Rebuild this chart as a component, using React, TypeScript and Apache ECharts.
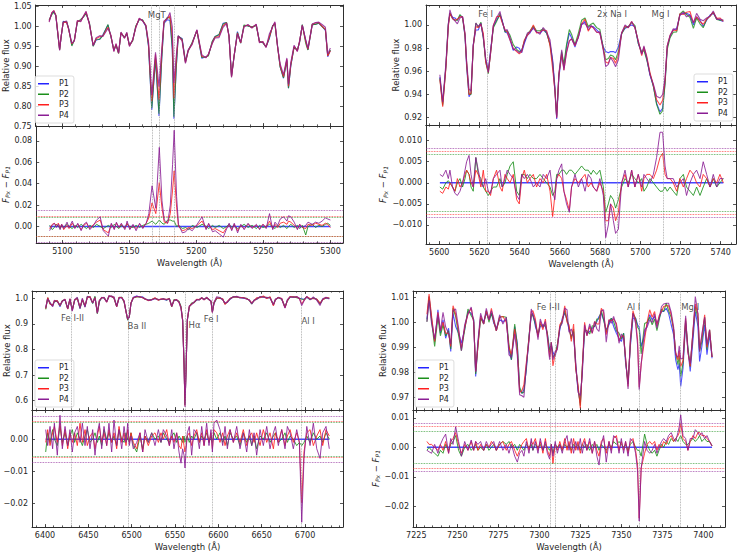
import { useEffect, useRef } from 'react';
import * as echarts from 'echarts';

// ---------- Mg b triplet window ----------
const wlMg = [
  5090.5, 5092.5, 5094, 5095.5, 5097, 5098.3, 5099.5, 5101, 5103.5, 5105,
  5107.4, 5109.3, 5111.5, 5114, 5116, 5118, 5120.5, 5123.3, 5125.5, 5128.2,
  5130.5, 5134.3, 5136.5, 5138.7, 5140.3, 5142.2, 5144, 5146.6, 5148.3, 5150.3,
  5152.7, 5155, 5157.6, 5160, 5162.5, 5164.5, 5166.9, 5169.7, 5172.3, 5174.3,
  5176, 5178.5, 5180.5, 5182.2, 5183.4, 5185.2, 5186.6, 5189.5, 5192, 5194,
  5196.9, 5200.5, 5204.2, 5207.2, 5209.1, 5212, 5214, 5217, 5220, 5222.6,
  5224.4, 5226.3, 5228.2, 5230.7, 5233.1, 5235.6, 5238.5, 5241.5, 5244.7, 5247.1,
  5249.6, 5252, 5254.5, 5256.9, 5258.6, 5260.6, 5262.5, 5265, 5267.5, 5268.7,
  5270.4, 5272.9, 5275.3, 5277, 5279, 5281.5, 5283.2, 5286.4, 5288.8, 5291.3,
  5293.7, 5296.2, 5297.9, 5299.9,
];
const fluxMg = [
  1.015, 1.033, 1.037, 1.027, 0.98, 0.943, 0.975, 1.013, 1.01, 0.995,
  0.953, 0.966, 1.012, 1.016, 1.024, 1.034, 1.008, 0.951, 0.966, 0.968,
  0.979, 1.004, 0.975, 0.94, 0.953, 0.934, 0.983, 0.973, 0.981, 0.953,
  0.965, 1.0, 1.018, 1.016, 1.0, 0.949, 0.79, 0.918, 0.775, 0.916,
  1.008, 1.017, 1.015, 0.941, 0.768, 0.9, 0.975, 0.97, 0.912, 0.941,
  0.958, 0.99, 0.92, 0.924, 0.928, 0.962, 0.975, 0.979, 1.008, 1.01,
  0.975, 0.876, 0.924, 0.987, 0.958, 1.002, 1.002, 0.998, 1.004, 0.962,
  0.96, 0.949, 0.97, 1.002, 1.008, 0.949, 0.899, 0.87, 0.916, 0.845,
  0.9, 0.949, 0.94, 0.962, 1.004, 0.966, 0.941, 1.004, 1.006, 1.008,
  1.0, 0.99, 0.924, 0.94,
];
// differences to P1, in units of 1e-3
const d2Mg = [
  1, -3, -1, 2, 0, -2, 1, -1, 2, 0,
  -2, 1, -1, 2, 0, -2, 1, -1, 2, 0,
  -2, 1, -1, 2, 0, -2, 1, -1, 2, 0,
  -1, 1, -1, 1, 2, 3, 5, 2, 6, 3,
  2, 6, 6, 5, 5, 0, 1, -2, -1, -3,
  1, -1, 2, 0, -2, 1, -1, 1, -2, 0,
  2, -1, 1, -2, 0, 2, -1, 1, -2, 1,
  -1, 0, 2, 0, -2, 1, -1, 1, -2, 0,
  2, -1, 1, -2, 1, -8, 0, 2, -1, 1,
  0, 2, 3, 1,
];
const d3Mg = [
  -2, 2, 3, 1, 3, -1, 2, -3, 1, -2,
  3, -1, 2, -3, 1, 3, -2, 2, 4, 6,
  -3, -6, 2, -2, 3, -1, 2, -2, 3, -2,
  1, -2, 2, -1, 3, 8, 22, 12, 41, 17,
  4, 3, 12, 34, 52, 18, 0, -4, -3, -1,
  -2, 1, 5, -2, 2, -3, -2, -4, -6, -1,
  1, -3, 2, -4, 1, -2, 2, -1, 1, -2,
  2, -1, 5, -2, 2, -1, 3, 4, 2, 5,
  4, 1, -2, 2, -1, -2, 2, 1, 3, 2,
  1, 3, 2, -1,
];
const d4Mg = [
  -4, 1, 3, -1, 2, -3, 2, -2, 4, -1,
  5, -2, 3, -4, 2, 4, -3, 1, 6, 9,
  -4, -9, 3, -3, 4, -1, 3, -3, 5, -3,
  2, -4, 3, -2, 3, 12, 38, 17, 74, 24,
  6, 3, 20, 58, 90, 28, 2, -6, -5, -2,
  -4, 2, 9, -3, 3, -5, -4, -7, -10, -2,
  3, -4, 3, -6, 2, -3, 3, -2, 2, -3,
  2, -2, 12, -3, 4, 1, 7, 9, 5, 10,
  9, 4, -3, 2, -1, 1, 4, 2, 4, 3,
  5, 8, 7, 6,
];
const sigmaMg = [9.0, 9.4, 15.0];
const linesMg = [5166.8, 5172.2, 5183.3];
const notesMg = [{ text: 'MgT', w: 5171, f: 1.027 }];
const xTicksMg = [5100, 5150, 5200, 5250, 5300];
const fTicksMg = [0.75, 0.8, 0.85, 0.9, 0.95, 1.0, 1.05];
const dTicksMg = [0, 0.02, 0.04, 0.06, 0.08];

// ---------- Na D window ----------
const wlNa = [
  5600.3, 5601.7, 5603.3, 5604.5, 5605.3, 5606.6, 5607.8, 5609, 5610.3, 5611.6,
  5612.8, 5613.6, 5614.8, 5615.8, 5616.9, 5618.2, 5619.4, 5620.7, 5621.9, 5623.1,
  5624.4, 5625.5, 5626.9, 5628.5, 5630.2, 5631.3, 5632.7, 5633.8, 5635.2, 5636.8,
  5638.5, 5639.8, 5641, 5642.3, 5643.8, 5645.1, 5646.8, 5648.4, 5650.1, 5651.7,
  5653.4, 5655.1, 5656.4, 5657.5, 5658.4, 5659.5, 5660.9, 5662, 5663.3, 5664.7,
  5665.8, 5667.5, 5669.2, 5670.8, 5672.5, 5674.1, 5675.5, 5676.6, 5678.3, 5679.9,
  5681.6, 5682.8, 5684.1, 5685.2, 5686.6, 5687.7, 5689.1, 5690.7, 5692.4, 5694,
  5695.7, 5697.3, 5699, 5700.7, 5701.8, 5703.2, 5704.8, 5706.5, 5708.1, 5709.8,
  5711.1, 5712.3, 5713.4, 5714.8, 5716.4, 5718.1, 5719.7, 5721.4, 5723, 5724.7,
  5726.4, 5728, 5729.7, 5731.3, 5733, 5734.7, 5736.3, 5738, 5739.6, 5741.3,
];
const fluxNa = [
  0.955, 0.932, 0.964, 1.0, 1.01, 1.0066, 1.006, 1.004, 1.008, 1.007,
  0.99, 0.964, 0.938, 0.941, 0.983, 0.9957, 0.9957, 1.0014, 0.99, 0.97,
  0.961, 0.978, 0.9986, 1.004, 1.0086, 1.004, 0.994, 0.993, 0.987, 0.978,
  0.981, 0.98, 0.976, 0.984, 0.991, 0.993, 0.998, 0.994, 0.993, 0.9957,
  0.993, 0.984, 0.97, 0.947, 0.919, 0.955, 0.974, 0.963, 0.981, 0.993,
  0.989, 0.981, 0.99, 1.0, 1.003, 0.9957, 0.9986, 0.9986, 0.9957, 0.993,
  0.981, 0.977, 0.976, 0.977, 0.977, 0.976, 0.981, 0.993, 0.997, 0.9986,
  1.0, 0.9986, 0.984, 0.9756, 0.98, 0.971, 0.957, 0.947, 0.9325, 0.925,
  0.928, 0.95, 0.981, 0.99, 0.9957, 0.997, 1.0086, 1.01, 1.01, 1.0086,
  1.0, 1.007, 1.004, 0.9986, 1.004, 1.0086, 1.01, 1.0057, 1.004, 1.003,
];
const d2Na = [
  -1, -1.5, 0, 0.5, 0, -1, -2, 0, 1, -1,
  1, 3, 2, -1, -2, 6, 2, 1, -1, -2,
  -3, -2, -1, -1, 1, -1, 0, 2, 4, 5,
  -2, -3, 2, 2, 1, 2, 1, 1, 2, 1,
  0, -1, -3, -2, 2, 2, 3, 3, 2, 3,
  3, 2, 3, 4, 3, 3, 2, 3, 2, 3,
  -1, -7, -5, -3, -4, -6, -4, -1, 1, 0,
  2, 1, 0, 1, -2, -1, 1, 0, -1, -2,
  -2, -1, -2, -1, -2, -3, 1, 2, -1, -2,
  -3, -1, -3, -1, 1, -1, 1, -1, 0, 1,
];
const d3Na = [
  -2, -2.5, -1, -1.5, 0, -1, -2, 1, -1, 0,
  2, 3, 2, 0, -1, 3, 2, -1, 3, -2,
  -2, -3, 1, 3, -1, -2, 2, 1, 0, 2,
  -4, -5, 1, 3, 0, 1, 2, -1, 1, 0,
  2, -2, -8, -3, 1, 2, 1, -2, -4, -6.5,
  -1, 1, 0, 1, 2, -1, 0, -1, -2, 0,
  -2, -9, -9, -5, -6, -9, -7, 0, 2, -1,
  3, -1, 2, -2, 1, 2, 2, 1, 3, 6,
  7, 2, 1, 1, 0, -2, 1, -1, 1, 3,
  2, 0, -1, 2, 1, -1, 1, 0, 2, 0,
];
const d4Na = [
  2, 1.5, 3, 1, 3, -1, -2.5, -3, -2, 0,
  3, 5, 6.5, 2, -1, 6, 3, 0, -1, 1,
  -2, -2.5, 1, 2, 3, -1, 1, 3, 2, 1,
  -3, -4, 2, 1, 2, 1, -1, 0, -1, 2,
  1, 3, -2, -4, 1, 3, 4.5, -2, -5, -7,
  -1, 2, -1, 1, -2, 2, 1, -1, -2, 1,
  -3, -13, -10, -5, -9, -12, -11, 0, 3, -1,
  3, -1, 2, -1, 2, 1, 0, 2, 6, 12,
  12, 4, 1, 1, 1, -1, 0, 1, -3, 0,
  2, 3, 1, 5, 2, -1, 2, -1, 1, 1,
];
const sigmaNa = [6.7, 7.5, 8.1];
const linesNa = [5623.9, 5682.6, 5688.3, 5711.2];
const notesNa = [
  { text: 'Fe I', w: 5623.3, f: 1.0094 },
  { text: '2x Na I', w: 5686.2, f: 1.0094 },
  { text: 'Mg I', w: 5710.3, f: 1.0094 },
];
const xTicksNa = [5600, 5620, 5640, 5660, 5680, 5700, 5720, 5740];
const fTicksNa = [0.92, 0.94, 0.96, 0.98, 1.0];
const dTicksNa = [-0.01, -0.005, 0, 0.005, 0.01];

// ---------- H-alpha window ----------
const wlHa = [
  6400.8, 6403.1, 6405.8, 6408.8, 6410.8, 6414.2, 6417.3, 6420, 6423.1, 6426.2,
  6428.8, 6431.5, 6434.2, 6437.3, 6440.4, 6443.1, 6446.2, 6448.8, 6451.9, 6455,
  6457.7, 6460.4, 6462.7, 6465.4, 6468.1, 6471.2, 6473.8, 6476.9, 6479.6, 6482.7,
  6485.4, 6488.5, 6491.2, 6493.5, 6495.4, 6497.3, 6499.2, 6501.9, 6505.8, 6509.6,
  6512.7, 6515.4, 6519.2, 6523.1, 6526.9, 6530.8, 6533.8, 6536.5, 6540.4, 6543.5,
  6546.2, 6548.8, 6551.9, 6554.6, 6556.9, 6558.8, 6560.4, 6561.5, 6562.7, 6564.2,
  6566.5, 6569.2, 6571.9, 6575, 6578.1, 6580.8, 6583.5, 6586.5, 6589.2, 6591.5,
  6593.1, 6595, 6598.1, 6601.9, 6605, 6607.7, 6610.4, 6613.5, 6617.3, 6621.2,
  6625, 6628.8, 6632.7, 6635.8, 6638.5, 6641.2, 6644.2, 6648.1, 6651.9, 6655.8,
  6659.6, 6663.5, 6665.8, 6669.2, 6673.1, 6676.9, 6679.6, 6682.7, 6686.5, 6690.4,
  6693.5, 6696.2, 6698.8, 6702, 6705.8, 6709.6, 6713.5, 6717.3, 6720.4, 6724.2,
  6728,
];
const fluxHa = [
  0.961, 1.0, 0.98, 0.97, 0.987, 0.991, 0.967, 0.991, 0.993, 0.961,
  0.996, 0.954, 0.993, 1.0, 0.961, 0.996, 0.967, 1.004, 1.006, 0.98,
  1.006, 0.941, 0.987, 1.004, 1.0, 0.987, 1.006, 1.009, 1.0, 0.97,
  1.0, 1.004, 0.987, 0.948, 0.915, 0.929, 0.98, 1.004, 1.009, 1.004,
  1.006, 0.996, 0.993, 0.993, 1.0, 0.993, 0.996, 0.996, 0.993, 1.0,
  0.967, 0.993, 0.993, 0.987, 0.967, 0.915, 0.746, 0.584, 0.72, 0.915,
  0.967, 0.98, 0.983, 0.993, 0.996, 1.0, 0.996, 1.0, 0.996, 0.987,
  0.948, 0.98, 1.0, 1.0, 0.996, 0.978, 0.987, 0.996, 1.006, 1.004,
  1.004, 1.0, 1.0, 0.991, 0.98, 0.991, 1.0, 1.004, 1.006, 1.0,
  1.004, 0.974, 0.993, 1.004, 0.996, 0.965, 0.991, 1.004, 1.006, 1.004,
  1.0, 0.998, 0.996, 1.004, 0.996, 1.0, 0.996, 0.978, 0.996, 1.0,
  1.0,
];
const d2Ha = [
  -4, 2, -1, 3, 0, -2, 4, -1, 2, -2,
  1, 3, -1, 2, 0, -2, 1, 3, -1, 0,
  2, -1, 1, -2, 3, 0, 2, -1, 1, -2,
  3, 0, -1, 2, 0, -1, 2, -2, -4, 1,
  -3, 1, -1, 2, 0, 1, -1, 2, 0, -1,
  1, 2, -1, 1, 0, -1, 1, -1, 0, 1,
  -1, 1, 0, 2, -1, 1, 0, 2, -1, 1,
  -1, 2, 0, 2, -1, 1, -2, 2, 0, 1,
  -2, 2, -1, 1, -2, 1, -3, 1, 0, 2,
  -1, 1, 2, -1, 0, 2, -1, 1, 0, -2,
  -1, -2, -1, 1, -1, 2, 0, 1, -1, 2,
  0,
];
const d3Ha = [
  -1, 3, -2, 2, 4, -1, 5, -2, 3, -3,
  2, -1, 2, -2, 5, -1, 3, -2, 1, 2,
  -3, 1, 4, -1, 2, -2, 3, -1, 2, -3,
  4, -1, 2, -2, 3, -1, 2, -1, -3, 2,
  -4, 1, -2, 1, 2, -1, 2, 0, 3, -2,
  1, -1, 2, -2, -3, 1, -2, -4, -2, 1,
  2, -2, 1, 3, -1, 2, -2, 3, -1, 2,
  -3, 3, 2, -1, 2, -2, 1, 3, -1, 2,
  -1, 3, -2, 1, 2, -1, 2, -2, 3, -1,
  2, -3, 2, -1, 3, -2, 1, 3, -1, 2,
  -1, -20, -4, 2, 3, -2, 1, 3, -2, 3,
  1,
];
const d4Ha = [
  3, -2, 4, -3, 5, -5, 7.5, -3, 4, -2,
  3, -4, 2, 4, -1, 5, -2, 4, -3, 3,
  -5, 2, 5, -3, 4, -2, 5, -4, 6, -2,
  3, -3, 4, -1, 5, -2, 1, -3, -1, 2,
  -4, 3, -1, 2, -2, 3, -1, 3, 1, -2,
  3, -3, 2, -4, -7.5, -3, -5, -9, -4, 2,
  4, -5, 3, 2, -3, 4, -2, 5, -2, 3,
  -4, 5, 6, 3, -2, 4, -3, 3, -1, 4,
  -3, 2, -4, 3, -2, 2, -5, 3, -2, 4,
  -3, 2, 4, -2, 3, -3, 4, 2, -3, 3,
  -1, -26, -6, 4, -2, 5, -3, -6, 2, 4,
  -3,
];
const sigmaHa = [5.2, 5.6, 7.3];
const linesHa = [6430.8, 6496.1, 6561.5, 6593.0, 6696.2];
const notesHa = [
  { text: 'Fe I-II', w: 6432.3, f: 0.92 },
  { text: 'Ba II', w: 6506.7, f: 0.889 },
  { text: 'Hα', w: 6573.1, f: 0.893 },
  { text: 'Fe I', w: 6592.3, f: 0.919 },
  { text: 'Al I', w: 6704.1, f: 0.909 },
];
const xTicksHa = [6400, 6450, 6500, 6550, 6600, 6650, 6700];
const fTicksHa = [0.6, 0.7, 0.8, 0.9, 1.0];
const dTicksHa = [-0.02, -0.01, 0];

// ---------- Al I / Mg I window ----------
const wlAl = [
  7231.5, 7232.8, 7234.3, 7236.2, 7238.2, 7239.7, 7241.3, 7242.9, 7244.7, 7246,
  7247.4, 7249, 7250.8, 7252.5, 7254.5, 7256.5, 7258.5, 7260, 7261.2, 7262.6,
  7264.2, 7266.1, 7267.7, 7269.3, 7270.8, 7272.2, 7273.8, 7275.8, 7277.8, 7279.9,
  7281.5, 7283, 7285, 7286.6, 7288, 7289.4, 7290.6, 7292.1, 7293.7, 7295.1,
  7296.1, 7297.6, 7299.2, 7300.6, 7302.2, 7303.7, 7304.9, 7306.3, 7307.3, 7308.3,
  7309.7, 7311, 7312.5, 7314, 7315.5, 7316.9, 7318.1, 7319.5, 7320.9, 7322.2,
  7323.6, 7325, 7326.2, 7327.6, 7329, 7330.7, 7332.3, 7333.7, 7335.1, 7336.4,
  7337.8, 7339.2, 7340.8, 7342.5, 7343.9, 7345.3, 7347, 7348.6, 7350, 7351.4,
  7352.6, 7354.1, 7355.5, 7357.1, 7358.7, 7359.9, 7360.9, 7362.1, 7364.2, 7365.7,
  7367.3, 7368.8, 7370.3, 7371.7, 7373, 7374.5, 7375.8, 7377.4, 7378.8, 7380.4,
  7381.9, 7383.1, 7384.5, 7385.3, 7386.2, 7387.6, 7389.2, 7390.6, 7392, 7393.7,
  7395.1, 7396.7, 7397.7, 7399.1, 7400.8, 7402.2, 7403.8, 7405.3,
];
const fluxAl = [
  1.0012, 1.0103, 1.0016, 0.9923, 1.005, 0.9956, 1.001, 0.9936, 0.9976, 0.9883,
  1.0036, 0.9983, 0.9956, 0.9916, 0.997, 1.0043, 1.0036, 1.001, 0.9783, 0.9916,
  1.0016, 1.0003, 1.0036, 1.001, 1.0036, 0.9996, 0.9976, 1.001, 1.0003, 1.001,
  0.989, 0.985, 0.9983, 0.9916, 0.973, 0.9716, 0.973, 0.981, 0.9943, 1.0023,
  1.0036, 0.9983, 0.995, 0.9983, 0.999, 0.9983, 0.9956, 0.989, 0.991, 0.988,
  0.9863, 0.991, 0.997, 1.0016, 1.0036, 1.001, 0.997, 0.9943, 0.9963, 0.9823,
  0.973, 0.9676, 0.981, 0.997, 0.9956, 0.9963, 0.9976, 0.9983, 1.0003, 1.0023,
  1.0036, 1.001, 0.997, 0.999, 1.0016, 0.9983, 0.9956, 0.9936, 0.9923, 0.9956,
  0.9836, 0.9763, 0.9903, 1.0016, 1.0016, 0.999, 0.998, 0.9903, 0.995, 0.999,
  1.003, 1.001, 1.0023, 0.9996, 1.0016, 1.0043, 1.0043, 1.0056, 1.0036, 0.999,
  0.995, 0.985, 0.981, 0.9836, 0.9743, 0.9816, 0.9996, 0.989, 0.9803, 0.993,
  1.0043, 0.9983, 0.9843, 0.9903, 0.999, 0.987, 0.995, 0.9856,
];
const d2Al = [
  -1, 0, -1, -2, -3, -1, -2, 1, -1, 1,
  2, 4, -1, -3, 0, 1, -1, 0, 1, -1,
  0, -1, 1, -1, 0, 1, -1, 1, 2, 1,
  2, 0, 1, -1, 1, 0, -1, 1, 0, 1,
  -1, 1, 0, 1, -1, 1, 0, -1, 1, -2,
  1, 0, 1, -1, 1, 0, 1, -1, 1, 0,
  1, -1, 1, 0, 1, -1, 1, 0, 1, -1,
  1, 0, -1, 1, 0, 2, 1, 2, 1, 0,
  1, -1, 1, 2, 0, -1, -1, -3, 4.5, 1,
  -1, -2, -1, -3, -1, 1, 0, 2, 1, 3,
  2, 3, 2, 3, 4, 2, 1, 1, 2, 3,
  2, 3, 4, 2, 3, 2, 2, 0.5,
];
const d3Al = [
  2, 1, 1, 0, -1, 1, -1, 2, -2, 2,
  3, 5, 1, -2, 1, -1, 2, -1, 2, -1,
  1, -1, 1, 0, 2, 1, -1, 1, 2, -1,
  1, 2, -1, -3, -1, 1, 2, 3, -1, 2,
  1, 3, -1, 2, -2, 3, -1, -3, 1, -5.5,
  1, -1, 2, -1, 3, -1, 2, -2, 3, -1,
  2, -2, 1, 3, -1, 2, -2, 2, -1, -3,
  2, 3, -2, 2, -1, 3, 4, -1, 2, -1,
  2, -2, 2, 3, -1, -6, -24, -7, -2, 1,
  2, 1, 2, -1, 1, 0, 2, 1, 3, 4,
  2, 3, 4, 5, 8, 3, 2, -1, 2, 4,
  3, 5, 5, 4, 4, 3, 2, 0.5,
];
const d4Al = [
  -1, -1.5, -2, 1, -2, 1, 3, 4.5, -2, 3,
  1, 7, 2, -3, 2, -1, 2.5, -1, 2, 1,
  2, -1, 2, 0, 1, 2, -1, 2, -1, 1,
  -2, 1, -3, -5, -2, -1, -3, 2, -2, 3,
  -1, 2, -2, 3, -1, 2, -2, -4, 1, -3,
  2, -2, 1, -2, 2, 4, -1, 3, -2, 2,
  -1, 3, -2, 2, -1, 3, -2, 2, -3, -6,
  1, 4, -5, 2, -2, 4, 3, -2, 3, -2,
  2, -3, 3, 2, -2, -8, -25, -7, 2, -1,
  -2, -1, 1, -2, 0, 2, 3, 2, 4, 5,
  3, 2, 5, 7, 11, 4, 3, -1, 3, 3,
  6, 5, 4, 5, 3, 4, 2, 0.5,
];
const sigmaAl = [5.4, 7.0, 8.1];
const linesAl = [7306.9, 7309.9, 7360.8, 7386.0];
const notesAl = [
  { text: 'Fe I-II', w: 7305.7, f: 1.0058 },
  { text: 'Al I', w: 7357.8, f: 1.0058 },
  { text: 'Mg I', w: 7392.3, f: 1.0058 },
];
const xTicksAl = [7225, 7250, 7275, 7300, 7325, 7350, 7375, 7400];
const fTicksAl = [0.97, 0.98, 0.99, 1.0, 1.01];
const dTicksAl = [-0.02, -0.01, 0, 0.01];

const NAMES = ['P1', 'P2', 'P3', 'P4'];
const COLORS = ['#2424ff', '#1b8f1b', '#ff1f1f', '#8a1d94'];
const FONT = '"DejaVu Sans", sans-serif';
const FRAME = '#2e2e2e';
const TEXT = '#262626';

type Note = { text: string; w: number; f: number };
type Panel = {
  wl: number[]; flux: number[]; diffs: number[][]; sigma: number[]; lines: number[]; notes: Note[];
  xRange: number[]; fRange: number[]; dRange: number[];
  xMajor: number[]; xMinorStep: number; fTicks: number[]; dTicks: number[]; fDigits: number; dDigits: number;
  left: number; width: number; top: number; mid: number; bottom: number;
  legendPos: { left: number; top: number };
  gapF: number; gapD: number | null;
};

const panels: Panel[] = [
  {
    wl: wlMg, flux: fluxMg, diffs: [d2Mg, d3Mg, d4Mg], sigma: sigmaMg, lines: linesMg, notes: notesMg,
    xRange: [5080.5, 5309.3], fRange: [0.75, 1.054], dRange: [-0.0155, 0.094],
    xMajor: xTicksMg, xMinorStep: 10, fTicks: fTicksMg, dTicks: dTicksMg, fDigits: 2, dDigits: 2,
    left: 32, width: 311, top: 5, mid: 126, bottom: 243,
    legendPos: { left: 35, top: 76 }, gapF: 23, gapD: 24,
  },
  {
    wl: wlNa, flux: fluxNa, diffs: [d2Na, d3Na, d4Na], sigma: sigmaNa, lines: linesNa, notes: notesNa,
    xRange: [5593.4, 5747.6], fRange: [0.9137, 1.0172], dRange: [-0.01452, 0.01372],
    xMajor: xTicksNa, xMinorStep: 5, fTicks: fTicksNa, dTicks: dTicksNa, fDigits: 2, dDigits: 3,
    left: 426, width: 310, top: 5, mid: 125, bottom: 244,
    legendPos: { left: 694, top: 74 }, gapF: 24, gapD: 36,
  },
  {
    wl: wlHa, flux: fluxHa, diffs: [d2Ha, d3Ha, d4Ha], sigma: sigmaHa, lines: linesHa, notes: notesHa,
    xRange: [6385, 6743.8], fRange: [0.5637, 1.0285], dRange: [-0.02748, 0.00914],
    xMajor: xTicksHa, xMinorStep: 10, fTicks: fTicksHa, dTicks: dTicksHa, fDigits: 1, dDigits: 2,
    left: 32, width: 311, top: 291, mid: 410, bottom: 529,
    legendPos: { left: 35, top: 360 }, gapF: 21, gapD: null,
  },
  {
    wl: wlAl, flux: fluxAl, diffs: [d2Al, d3Al, d4Al], sigma: sigmaAl, lines: linesAl, notes: notesAl,
    xRange: [7223, 7413.2], fRange: [0.9649, 1.0125], dRange: [-0.027, 0.01267],
    xMajor: xTicksAl, xMinorStep: 5, fTicks: fTicksAl, dTicks: dTicksAl, fDigits: 2, dDigits: 2,
    left: 413, width: 312, top: 291, mid: 410, bottom: 529,
    legendPos: { left: 415, top: 360 }, gapF: 24.5, gapD: 27.5,
  },
];

const fmt = (v: number, d: number) => {
  const s = Math.abs(v).toFixed(d);
  return v < -1e-9 ? '\u2212' + s : s;
};

const minorTicks = (range: number[], step: number) => {
  const out: number[] = [];
  for (let v = Math.ceil(range[0] / step) * step; v <= range[1]; v += step) out.push(Math.round(v * 100) / 100);
  return out;
};

const textStyle = { fontFamily: FONT, color: TEXT, fontSize: 8 };

function xAxesFor(g: number, p: Panel, withLabels: boolean) {
  const base = { type: 'value', gridIndex: g, min: p.xRange[0], max: p.xRange[1], splitLine: { show: false } };
  const minor = minorTicks(p.xRange, p.xMinorStep);
  const tickLine = { color: FRAME, width: 0.8 };
  const major = (pos: string, labels: boolean) => ({
    ...base,
    position: pos,
    axisLine: { show: true, onZero: false, lineStyle: { color: FRAME, width: 1 } },
    axisTick: { show: true, inside: true, length: 3, customValues: p.xMajor, lineStyle: tickLine },
    axisLabel: { show: labels, customValues: p.xMajor, margin: 4, ...textStyle, formatter: (v: number) => String(v) },
    name: labels ? 'Wavelength (Å)' : '',
    nameLocation: 'middle',
    nameGap: 15,
    nameTextStyle: { ...textStyle, fontSize: 8.5 },
  });
  const min = (pos: string) => ({
    ...base,
    position: pos,
    axisLine: { show: false, onZero: false },
    axisTick: { show: true, inside: true, length: 1.6, customValues: minor, lineStyle: tickLine },
    axisLabel: { show: false },
  });
  return [major('bottom', withLabels), min('bottom'), major('top', false), min('top')];
}

function yAxesFor(g: number, range: number[], ticks: number[], digits: number, name: string, gap: number) {
  const base = { type: 'value', gridIndex: g, min: range[0], max: range[1], splitLine: { show: false } };
  const tickLine = { color: FRAME, width: 0.8 };
  return [
    {
      ...base,
      position: 'left',
      axisLine: { show: true, onZero: false, lineStyle: { color: FRAME, width: 1 } },
      axisTick: { show: true, inside: true, length: 3, customValues: ticks, lineStyle: tickLine },
      axisLabel: { show: true, customValues: ticks, margin: 4, ...textStyle, formatter: (v: number) => fmt(v, digits) },
      name,
      nameLocation: 'middle',
      nameGap: gap,
      nameTextStyle: {
        ...textStyle,
        fontSize: 8.5,
        rich: {
          i: { fontFamily: FONT, color: TEXT, fontSize: 8.5, fontStyle: 'italic' },
          s: { fontFamily: FONT, color: TEXT, fontSize: 6, fontStyle: 'italic', padding: [4, 0, 0, 0], verticalAlign: 'bottom' },
          n: { fontFamily: FONT, color: TEXT, fontSize: 8.5 },
        },
      },
    },
    {
      ...base,
      position: 'right',
      axisLine: { show: true, onZero: false, lineStyle: { color: FRAME, width: 1 } },
      axisTick: { show: true, inside: true, length: 3, customValues: ticks, lineStyle: tickLine },
      axisLabel: { show: false },
    },
  ];
}

function buildOption() {
  const grid: any[] = [];
  const xAxis: any[] = [];
  const yAxis: any[] = [];
  const series: any[] = [];
  const legend: any[] = [];

  panels.forEach((p, pi) => {
    const gTop = pi * 2;
    const gBot = pi * 2 + 1;
    grid.push({ left: p.left, width: p.width, top: p.top, height: p.mid - p.top });
    grid.push({ left: p.left, width: p.width, top: p.mid, height: p.bottom - p.mid });

    xAxis.push(...xAxesFor(gTop, p, false));
    xAxis.push(...xAxesFor(gBot, p, true));
    yAxis.push(...yAxesFor(gTop, p.fRange, p.fTicks, p.fDigits, 'Relative flux', p.gapF));
    yAxis.push(
      ...yAxesFor(gBot, p.dRange, p.dTicks, p.dDigits, p.gapD === null ? '' : '{i|F}{s|Px}{n| \u2212 }{i|F}{s|P1}', p.gapD ?? 0)
    );

    const vLines = {
      silent: true,
      symbol: 'none',
      precision: 6,
      label: { show: false },
      lineStyle: { color: '#9c9c9c', type: 'dotted', width: 0.8 },
      data: p.lines.map((x) => ({ xAxis: x })),
    };

    // flux spectra
    NAMES.forEach((name, k) => {
      series.push({
        type: 'line',
        name,
        xAxisIndex: gTop * 4,
        yAxisIndex: gTop * 2,
        showSymbol: false,
        symbol: 'none',
        silent: true,
        color: COLORS[k],
        lineStyle: { width: 1.1, color: COLORS[k], opacity: 0.8 },
        data: p.wl.map((w, i) => [w, p.flux[i] + (k === 0 ? 0 : p.diffs[k - 1][i] / 1000)]),
        markLine: k === 0 ? vLines : undefined,
        z: 2 + k,
      });
    });

    // element labels
    series.push({
      type: 'scatter',
      name: 'labels',
      xAxisIndex: gTop * 4,
      yAxisIndex: gTop * 2,
      symbolSize: 1,
      itemStyle: { color: 'rgba(0,0,0,0)' },
      silent: true,
      z: 10,
      data: p.notes.map((n) => ({ value: [n.w, n.f], label: { formatter: n.text } })),
      label: {
        show: true,
        position: [0, 0],
        align: 'center',
        verticalAlign: 'middle',
        fontFamily: FONT,
        fontSize: 8.5,
        color: '#1a1a1a',
        textBorderWidth: 0,
      },
    });

    // differences to P1
    NAMES.forEach((name, k) => {
      const s: any = {
        type: 'line',
        name,
        xAxisIndex: gBot * 4,
        yAxisIndex: gBot * 2,
        showSymbol: false,
        symbol: 'none',
        silent: true,
        color: COLORS[k],
        lineStyle: { width: k === 0 ? 1.5 : 1.0, color: COLORS[k], opacity: 0.85 },
        data: p.wl.map((w, i) => [w, k === 0 ? 0 : p.diffs[k - 1][i] / 1000]),
        z: 2 + k,
      };
      if (k === 0) {
        s.markLine = vLines;
      } else {
        s.markLine = {
          silent: true,
          symbol: 'none',
          precision: 6,
          label: { show: false },
          lineStyle: { color: COLORS[k], type: 'dotted', width: 0.8, opacity: 0.85 },
          data: [{ yAxis: p.sigma[k - 1] / 1000 }, { yAxis: -p.sigma[k - 1] / 1000 }],
        };
      }
      series.push(s);
    });

    legend.push({
      data: NAMES,
      orient: 'vertical',
      left: p.legendPos.left,
      top: p.legendPos.top,
      icon: 'rect',
      itemWidth: 11,
      itemHeight: 1.5,
      itemGap: 1,
      padding: [3, 5, 3, 3],
      selectedMode: false,
      borderColor: '#d4d4d4',
      borderWidth: 0.8,
      borderRadius: 2,
      backgroundColor: 'rgba(255,255,255,0.8)',
      textStyle: { ...textStyle, fontSize: 8, lineHeight: 9.5, padding: [0, 0, 0, 5] },
    });
  });

  return { animation: false, backgroundColor: '#ffffff', grid, xAxis, yAxis, series, legend };
}

export default function App() {
  const ref = useRef<HTMLDivElement>(null);
  useEffect(() => {
    if (!ref.current) return;
    const chart = echarts.init(ref.current, undefined, { renderer: 'svg' });
    chart.setOption(buildOption() as any);
    return () => chart.dispose();
  }, []);
  return <div ref={ref} style={{ position: 'fixed', left: 0, top: 0, width: 738, height: 552 }} />;
}
